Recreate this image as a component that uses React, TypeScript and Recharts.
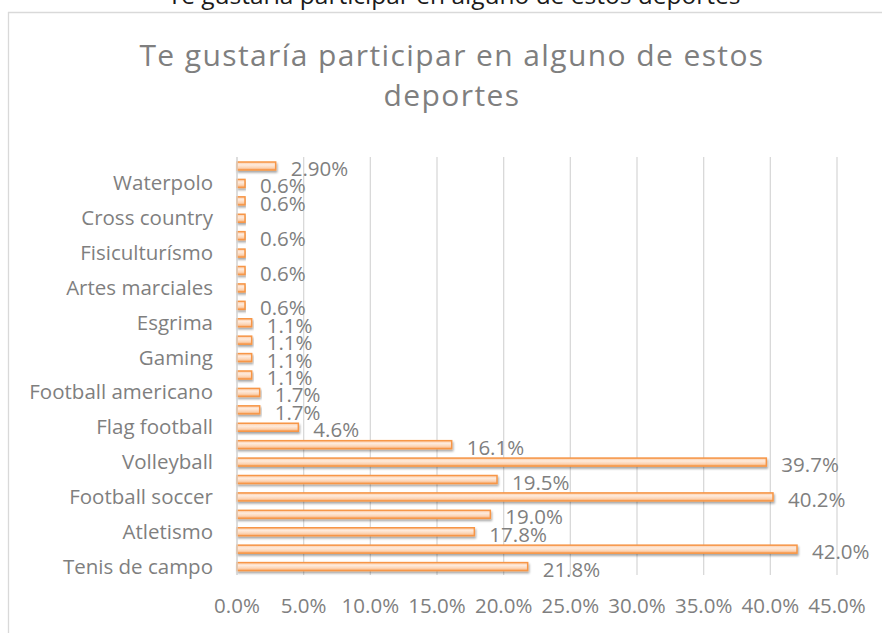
import React from "react";
import { BarChart, Bar, XAxis, YAxis, CartesianGrid, LabelList } from "recharts";

// Rows listed from the bottom of the chart upwards
const sportLabels = [
  "Tenis de campo", "", "Atletismo", "", "Football soccer", "", "Volleyball", "",
  "Flag football", "", "Football americano", "", "Gaming ", "", "Esgrima", "",
  "Artes marciales", "", "Fisiculturísmo", "", "Cross country", "", "Waterpolo", "",
];
const values = [
  21.8, 42.0, 17.8, 19.0, 40.2, 19.5, 39.7, 16.1,
  4.6, 1.7, 1.7, 1.1, 1.1, 1.1, 1.1, 0.6,
  0.6, 0.6, 0.6, 0.6, 0.6, 0.6, 0.6, 2.9,
];
const valueLabels = [
  "21.8%", "42.0%", "17.8%", "19.0%", "40.2%", "19.5%", "39.7%", "16.1%",
  "4.6%", "1.7%", "1.7%", "1.1%", "1.1%", "1.1%", "1.1%", "0.6%",
  "", "0.6%", "", "0.6%", "", "0.6%", "0.6%", "2.90%",
];
const xTicks = [0, 5, 10, 15, 20, 25, 30, 35, 40, 45];
const titleLines = ["Te gustaría participar en alguno de estos", "deportes"];
const headerText = "Te gustaría participar en alguno de estos deportes";

const data = values.map((v, i) => ({
  id: String(i),
  name: sportLabels[i],
  value: v,
  label: valueLabels[i],
}));

const FONT = "'Open Sans', sans-serif";
const GRAY = "#7F7F7F";

const renderLabel = (props: any) => {
  const { x, y, width, height, value } = props;
  if (!value) return null;
  return (
    <text
      x={Number(x) + Number(width) + 15}
      y={Number(y) + Number(height) / 2 + 2}
      dominantBaseline="central"
      fill={GRAY}
      fontSize={20.5}
      fontFamily={FONT}
    >
      {value}
    </text>
  );
};

const BarShape = (props: any) => {
  const { x, y, width, height } = props;
  if (!width || width <= 0) return null;
  return (
    <rect
      x={x}
      y={y}
      width={width}
      height={height}
      fill="url(#barGrad)"
      stroke="#F79646"
      strokeWidth={1.5}
      filter="url(#barShadow)"
    />
  );
};

export default function App() {
  return (
    <div
      style={{
        position: "absolute",
        left: 0,
        top: 0,
        width: 882,
        height: 633,
        overflow: "hidden",
        background: "#fff",
        fontFamily: FONT,
      }}
    >
      <svg width={0} height={0} style={{ position: "absolute" }}>
        <defs>
          <linearGradient id="barGrad" x1="0" y1="0" x2="0" y2="1">
            <stop offset="0" stopColor="#FBC9A2" />
            <stop offset="0.35" stopColor="#FEEBDD" />
            <stop offset="0.7" stopColor="#FCD5B6" />
            <stop offset="1" stopColor="#F8A868" />
          </linearGradient>
          <filter id="barShadow" x="-10%" y="-50%" width="120%" height="220%">
            <feDropShadow dx="1" dy="2" stdDeviation="1" floodColor="#000" floodOpacity="0.35" />
          </filter>
        </defs>
      </svg>
      <div style={{ position: "absolute", left: 0, top: 0 }}>
        <BarChart
          width={882}
          height={633}
          data={data}
          layout="vertical"
          margin={{ top: 157, right: 45, bottom: 28, left: 8 }}
        >
          <CartesianGrid horizontal={false} stroke="#D9D9D9" strokeWidth={1.3} />
          <XAxis
            type="number"
            domain={[0, 45]}
            ticks={xTicks}
            tickFormatter={(v: number) => `${v.toFixed(1)}%`}
            axisLine={false}
            tickLine={false}
            tickSize={0}
            tickMargin={23}
            height={30}
            tick={{ fill: GRAY, fontSize: 20.5, fontFamily: FONT }}
            interval={0}
          />
          <YAxis
            type="category"
            dataKey="id"
            reversed
            width={229}
            interval={0}
            tickLine={false}
            tickSize={0}
            tickMargin={24}
            axisLine={{ stroke: "#D9D9D9", strokeWidth: 1.3 }}
            tickFormatter={(v: string) => sportLabels[Number(v)]}
            tick={{ fill: GRAY, fontSize: 20.5, fontFamily: FONT }}
          />
          <Bar
            dataKey="value"
            barSize={8}
            isAnimationActive={false}
            shape={<BarShape />}
          >
            <LabelList dataKey="label" content={renderLabel} />
          </Bar>
        </BarChart>
      </div>
      <svg
        width={882}
        height={633}
        style={{ position: "absolute", left: 0, top: 0, pointerEvents: "none" }}
      >
        <text
          x={454}
          y={3.5}
          textAnchor="middle"
          fill="#1a1a1a"
          fontSize={24.5}
          fontFamily={FONT}
        >
          {headerText}
        </text>
        <line x1={8} y1={12.5} x2={882} y2={12.5} stroke="#D9D9D9" strokeWidth={1.3} />
        <line x1={8.5} y1={12} x2={8.5} y2={633} stroke="#D9D9D9" strokeWidth={1.3} />
        {titleLines.map((t, i) => (
          <text
            key={i}
            x={452}
            y={66 + i * 40}
            textAnchor="middle"
            fill={GRAY}
            fontSize={30}
            letterSpacing={1.4}
            fontFamily={FONT}
          >
            {t}
          </text>
        ))}
      </svg>
    </div>
  );
}
